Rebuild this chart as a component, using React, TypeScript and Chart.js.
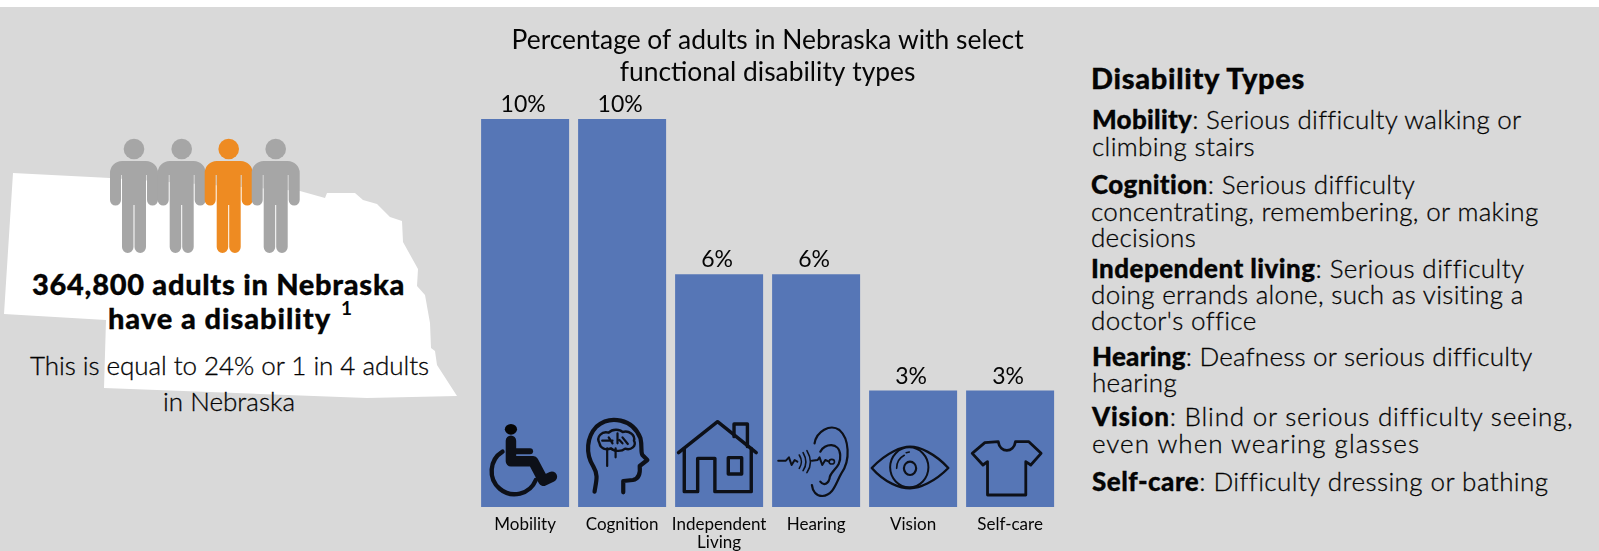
import React, { useEffect, useLayoutEffect, useRef } from "react";
import { Chart, registerables } from "chart.js";

Chart.register(...registerables);

const FONT = "Lato, 'Noto Sans', sans-serif";
const INK = "#050505";
const BAR = "#5676b6";
const GRAY = "#a6a6a6";
const ORANGE = "#ee8b22";

const categories = ["Mobility", "Cognition", ["Independent", "Living"], "Hearing", "Vision", "Self-care"];
const values = [10, 10, 6, 6, 3, 3];
const chartTitle = ["Percentage of adults in Nebraska with select", "functional disability types"];

const headlineLines = [
  { bold: "364,800 adults in Nebraska", rest: "", x: 32, right: 405, y: 285, size: 29 },
  { bold: "have a disability", rest: "", x: 108, right: 331, y: 319, size: 29 },
];
const subLines = [
  { bold: "", rest: "This is equal to 24% or 1 in 4 adults", x: 30, right: 429, y: 366, size: 26 },
  { bold: "", rest: "in Nebraska", x: 163, right: 295, y: 402, size: 26 },
];
const typeLines = [
  { bold: "Disability Types", rest: "", x: 1091, right: 1305, y: 79, size: 29 },
  { bold: "Mobility", rest: ": Serious difficulty walking or", x: 1092, right: 1520, y: 120, size: 26 },
  { bold: "", rest: "climbing stairs", x: 1092, right: 1255, y: 147, size: 26 },
  { bold: "Cognition", rest: ": Serious difficulty", x: 1091, right: 1414, y: 185, size: 26 },
  { bold: "", rest: "concentrating, remembering, or making", x: 1091, right: 1539, y: 212, size: 26 },
  { bold: "", rest: "decisions", x: 1091, right: 1196, y: 238, size: 26 },
  { bold: "Independent living", rest: ": Serious difficulty", x: 1091, right: 1523, y: 269, size: 26 },
  { bold: "", rest: "doing errands alone, such as visiting a", x: 1091, right: 1524, y: 295, size: 26 },
  { bold: "", rest: "doctor's office", x: 1091, right: 1255, y: 321, size: 26 },
  { bold: "Hearing", rest: ": Deafness or serious difficulty", x: 1092, right: 1531, y: 357, size: 26 },
  { bold: "", rest: "hearing", x: 1092, right: 1177, y: 383, size: 26 },
  { bold: "Vision", rest: ": Blind or serious difficulty seeing,", x: 1092, right: 1572, y: 417, size: 26 },
  { bold: "", rest: "even when wearing glasses", x: 1092, right: 1420, y: 444, size: 26 },
  { bold: "Self-care", rest: ": Difficulty dressing or bathing", x: 1092, right: 1547, y: 482, size: 26 },
];

// Nebraska silhouette behind the left-hand text
const nebraskaOutline =
  "13,173 110,178 300,191 325,198 327,193 355,193 363,200 377,204 390,217 402,221 403,242 418,269 417,286 425,295 430,323 431,348 435,351 437,365 457,396 367,398 104,388 106,320 4,314";
const personCentres = [134, 181.7, 228.7, 275.7];
const personColors = [GRAY, GRAY, ORANGE, GRAY];

// Icons for each bar, sketched in a local grid: GX/GY map to pixels around the bar's base.
const GX = 1 / 2.613;
const GY = 1 / 3;
const GRID_BASE = 381;
const iconCentres = [144, 397, 651, 904, 1158, 1411];
type Stroke = { d: string; w?: number; fill?: boolean };
const icons: Stroke[][] = [
  [
    { d: "M91,148 a16,16 0 1,0 32,0 a16,16 0 1,0 -32,0 Z", fill: true },
    { d: "M107,182 L107,244 L165,244 L192,302 L214,290", w: 10.5 },
    { d: "M107,214 L157,214", w: 6 },
    { d: "M85,215 A60,69 0 1,0 172,300", w: 4.4 },
  ],
  [
    { d: "M325,335 C330,300 335,285 322,260 C300,220 305,170 330,140 C365,105 425,115 445,175 C450,200 445,215 450,225 L463,240 L443,258 C445,280 440,297 425,300 L400,303 L400,337", w: 4.2 },
    { d: "M338,190 C328,170 345,152 362,158 C372,145 392,148 398,156 C415,150 432,165 428,182 C436,198 420,212 405,206 C395,216 375,214 368,205 C355,212 340,205 338,190 Z", w: 2.4 },
    { d: "M358,205 L358,258 M380,205 L380,232 M385,160 L385,190 M345,182 L372,182 M372,190 L362,172 M398,172 L412,192 M398,190 L390,180", w: 2.2 },
  ],
  [
    { d: "M545,218 L647,125 L748,218", w: 3.4 },
    { d: "M560,205 L560,335 L595,335 L595,235 L640,235 L640,335 L735,335 L735,205", w: 3.4 },
    { d: "M690,170 L690,132 L725,132 L725,200", w: 3.4 },
    { d: "M675,233 L710,233 L710,282 L675,282 Z", w: 3.4 },
  ],
  [
    { d: "M900,190 C905,155 940,130 965,150 C990,175 995,240 970,280 C955,310 950,345 920,348 C905,348 895,335 893,315", w: 2.2 },
    { d: "M915,215 C925,190 965,185 967,225 C970,260 945,270 940,290 C938,310 925,320 915,305", w: 2.2 },
    { d: "M805,242 L825,242 L833,232 L840,255 L848,240 L855,245", w: 2 },
    { d: "M860,225 C868,240 868,250 860,265 M870,218 C880,238 880,255 870,272 M880,212 C892,235 892,258 880,278", w: 1.6 },
    { d: "M893,242 L908,240 L913,232 L920,255 L928,240 L938,245", w: 2 },
    { d: "M938,245 a7,7 0 1,0 14,0 a7,7 0 1,0 -14,0", w: 1.6 },
  ],
  [
    { d: "M1050,264 C1090,215 1130,200 1150,200 C1175,200 1215,220 1250,264 C1215,305 1175,325 1150,325 C1125,325 1085,310 1050,264 Z", w: 2.4 },
    { d: "M1098,262 a50,60 0 1,0 100,0 a50,60 0 1,0 -100,0", w: 2 },
    { d: "M1134,265 a16,20 0 1,0 32,0 a16,20 0 1,0 -32,0", w: 2.2 },
    { d: "M1115,265 C1115,245 1125,232 1135,226 M1140,218 L1148,216", w: 1.6 },
  ],
  [
    { d: "M1345,188 L1312,220 L1340,255 L1352,245 L1352,345 L1452,345 L1452,245 L1465,255 L1492,220 L1460,185 L1425,185 C1420,220 1385,220 1380,185 Z", w: 2.8 },
  ],
];

const barExtras = {
  id: "barExtras",
  afterDatasetsDraw(chart: any) {
    const { ctx } = chart;
    const meta = chart.getDatasetMeta(0);
    const base = chart.scales.y.getPixelForValue(0);
    meta.data.forEach((el: any, i: number) => {
      ctx.save();
      ctx.fillStyle = INK;
      ctx.font = `400 23px ${FONT}`;
      ctx.textAlign = "center";
      ctx.textBaseline = "alphabetic";
      ctx.fillText(`${values[i]}%`, el.x - 2, el.y - 7);
      ctx.strokeStyle = "#0d1018";
      ctx.lineJoin = "round";
      ctx.lineCap = "round";
      icons[i].forEach((s) => {
        const p = new Path2D();
        p.addPath(
          new Path2D(s.d),
          new DOMMatrix([GX, 0, 0, GY, el.x - iconCentres[i] * GX, base - GRID_BASE * GY])
        );
        if (s.fill) ctx.fill(p);
        else {
          ctx.lineWidth = s.w ?? 2;
          ctx.stroke(p);
        }
      });
      ctx.restore();
    });
  },
};

type Line = { bold: string; rest: string; x: number; right: number; y: number; size: number };

function FitLine({ line }: { line: Line }) {
  const ref = useRef<HTMLDivElement>(null);
  useLayoutEffect(() => {
    const el = ref.current;
    if (!el) return;
    el.style.letterSpacing = "0px";
    const w = el.getBoundingClientRect().width;
    const n = (line.bold + line.rest).length;
    el.style.letterSpacing = `${(line.right - line.x - w) / n}px`;
  }, [line]);
  return (
    <div
      ref={ref}
      style={{
        position: "absolute",
        left: line.x,
        top: line.y - 21,
        height: 40,
        lineHeight: "40px",
        fontSize: line.size,
        fontWeight: 300,
        whiteSpace: "nowrap",
        color: INK,
        WebkitTextStroke: "0.3px #000",
      }}
    >
      {line.bold ? <span style={{ fontWeight: 900 }}>{line.bold}</span> : null}
      {line.rest}
    </div>
  );
}

export default function App() {
  const canvasRef = useRef<HTMLCanvasElement>(null);

  useEffect(() => {
    document.body.style.margin = "0";
    const chart = new Chart(canvasRef.current as HTMLCanvasElement, {
      type: "bar",
      data: {
        labels: categories as any,
        datasets: [
          {
            data: values,
            backgroundColor: BAR,
            barPercentage: 88 / 97,
            categoryPercentage: 1,
          },
        ],
      },
      plugins: [barExtras],
      options: {
        responsive: false,
        animation: false,
        devicePixelRatio: 1,
        layout: { padding: { top: 25, left: 6.6, right: 6.4, bottom: 0 } },
        plugins: {
          legend: { display: false },
          tooltip: { enabled: false },
          title: {
            display: true,
            text: chartTitle,
            color: INK,
            font: { family: FONT, size: 26.4, weight: "400", lineHeight: 1.19 },
            padding: { top: 0, bottom: 31.2 },
          },
        },
        scales: {
          x: {
            grid: { display: false, drawTicks: false },
            border: { display: false },
            afterFit: (scale: any) => {
              scale.height = 44;
            },
            ticks: {
              color: INK,
              padding: 8,
              maxRotation: 0,
              autoSkip: false,
              font: { family: FONT, size: 17, weight: "400", lineHeight: 1.08 },
            },
          },
          y: { display: false, min: 0, max: 10 },
        },
      },
    } as any);
    return () => chart.destroy();
  }, []);

  return (
    <div style={{ position: "relative", width: 1599, height: 551, overflow: "hidden", fontFamily: FONT, background: "#fff" }}>
      <div style={{ position: "absolute", left: 0, top: 7, width: 1599, height: 544, background: "#d9d9d9" }} />
      <svg width={470} height={551} style={{ position: "absolute", left: 0, top: 0 }}>
        <polygon points={nebraskaOutline} fill="#ffffff" />
        {personCentres.map((cx, i) => (
          <g key={i} fill={personColors[i]}>
            <circle cx={cx} cy={149} r={10.3} />
            <path
              d={`M${cx - 24},173 a12,12 0 0 1 12,-12 h24 a12,12 0 0 1 12,12 v27 a5.5,5.5 0 0 1 -11,0 v-25 h-1 v72 a5.75,6 0 0 1 -11.5,0 v-42 h-1 v42 a5.75,6 0 0 1 -11.5,0 v-72 h-1 v25 a5.5,5.5 0 0 1 -11,0 Z`}
            />
          </g>
        ))}
      </svg>
      {headlineLines.concat(subLines).map((l, i) => (
        <FitLine key={i} line={l} />
      ))}
      <div style={{ position: "absolute", left: 341, top: 296, fontSize: 19, fontWeight: 700, lineHeight: "24px", color: INK }}>1</div>
      {typeLines.map((l, i) => (
        <FitLine key={i} line={l} />
      ))}
      <canvas ref={canvasRef} width={595} height={551} style={{ position: "absolute", left: 470, top: 0, width: 595, height: 551 }} />
    </div>
  );
}
